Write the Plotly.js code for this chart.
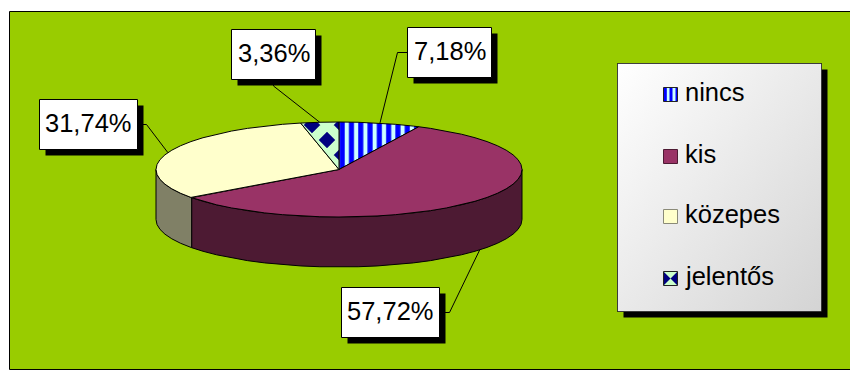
<!DOCTYPE html>
<html>
<head>
<meta charset="utf-8">
<script src="https://cdn.plot.ly/plotly-3.0.1.min.js"></script>
<style>html,body{margin:0;padding:0;background:#fff}#chart{width:850px;height:370px}</style>
</head>
<body>
<div id="chart"></div>
<script>
// Share of answers per category, in percent
const categories = ['nincs', 'kis', 'közepes', 'jelentős'];
const shares = [7.18, 57.72, 31.74, 3.36];
const shareLabels = ['7,18%', '57,72%', '31,74%', '3,36%'];

const topColors = ['#0000FF', '#993366', '#FFFFCC', '#000080'];
const wallColors = ['#000080', '#4D1A33', '#808066', '#000040'];

const W = 850, H = 370;
const marginL = 12, marginT = 20;

// Projection of the tilted disc, in pixels
const cx = 339, cy = 169.5, rx = 183, ry = 47.5, depth = 50;
const STEP = 6;

function rimPoint(deg, drop) {
  const a = deg * Math.PI / 180;
  return [cx + rx * Math.sin(a), cy - ry * Math.cos(a) + (drop || 0)];
}
function arc(a0, a1, drop) {
  const list = [a0];
  for (let d = Math.ceil(a0 / STEP) * STEP; d < a1; d += STEP) if (d > a0) list.push(d);
  list.push(a1);
  return list.map(d => rimPoint(d, drop));
}

// Slice boundaries, clockwise from twelve o'clock
const total = shares.reduce((s, v) => s + v, 0);
const bounds = [0];
shares.forEach(v => bounds.push(bounds[bounds.length - 1] + v / total * 360));

const traces = [];
const base = {mode: 'lines', fill: 'toself', hoverinfo: 'skip', showlegend: false,
              line: {color: '#000', width: 1}};

function addPoly(points, extra) {
  traces.push(Object.assign({}, base, {
    type: 'scatter', x: points.map(p => p[0]), y: points.map(p => p[1])
  }, extra));
}

// Side walls: only the part of each slice that faces the viewer (90° to 270°)
shares.forEach((v, i) => {
  const a0 = Math.max(bounds[i], 90), a1 = Math.min(bounds[i + 1], 270);
  if (a1 <= a0) return;
  const pts = arc(a0, a1, 0).concat(arc(a0, a1, depth).reverse());
  pts.push(pts[0]);
  addPoly(pts, {fillcolor: wallColors[i]});
});

// Top faces of the slices; the diagonal pattern's tile is size * sqrt(2) wide
const fills = [
  {fillpattern: {shape: '|', size: 9.3, solidity: 0.55, bgcolor: '#CCFFFF', fgcolor: '#0000FF', fillmode: 'replace'}, fillcolor: '#CCFFFF'},
  {fillcolor: topColors[1]},
  {fillcolor: topColors[2]},
  {fillpattern: {shape: 'x', size: 30 / Math.SQRT2, solidity: 0.7, bgcolor: '#000080', fgcolor: '#CCFFCC', fillmode: 'replace'}, fillcolor: '#CCFFCC'}
];
shares.forEach((v, i) => {
  const pts = [[cx, cy]].concat(arc(bounds[i], bounds[i + 1], 0));
  pts.push([cx, cy]);
  addPoly(pts, fills[i]);
});

// Value boxes: [left, top, right, bottom]
const boxes = [
  [407.5, 27.5, 491.5, 77.5],
  [341.5, 287.5, 439.5, 337.5],
  [39.5, 99.5, 137.5, 149.5],
  [231.5, 29.5, 315.5, 79.5]
];

// Leader lines run from each slice's mid-angle to its box
const leaderDrop = [0, depth, 0, 0];
const leaderElbow = [
  b => [[b[0], (b[1] + b[3]) / 2], [b[0] - 10, (b[1] + b[3]) / 2]],
  b => [[b[2], (b[1] + b[3]) / 2], [b[2] + 10, (b[1] + b[3]) / 2]],
  b => [[b[2], (b[1] + b[3]) / 2], [b[2] + 9, (b[1] + b[3]) / 2]],
  b => [[(b[0] + b[2]) / 2, b[3]], [(b[0] + b[2]) / 2, b[3] + 6.5]]
];
shares.forEach((v, i) => {
  const mid = (bounds[i] + bounds[i + 1]) / 2;
  const pts = leaderElbow[i](boxes[i]).concat([rimPoint(mid, leaderDrop[i])]);
  traces.push({type: 'scatter', mode: 'lines', hoverinfo: 'skip', showlegend: false,
    x: pts.map(p => p[0]), y: pts.map(p => p[1]), line: {color: '#000', width: 1}});
});

const px = x => (x - marginL) / (W - marginL);
const py = y => 1 - (y - marginT) / (H - marginT);

const shapes = [];

// Outer frame: the green area runs off the right edge of the page
shapes.push({type: 'rect', layer: 'below', xref: 'paper', yref: 'paper',
  x0: px(9.5), x1: px(860), y0: py(11.5), y1: py(369.5),
  line: {color: '#000', width: 1}, fillcolor: 'rgba(0,0,0,0)'});

// Legend panel: drop shadow and outline over the gradient image
const panel = [617.5, 63.5, 821.5, 311.5];
const sh = 6;
shapes.push({type: 'path', layer: 'below', xref: 'x', yref: 'y',
  path: `M${panel[2]},${panel[1] + sh}L${panel[2] + sh},${panel[1] + sh}L${panel[2] + sh},${panel[3] + sh}` +
        `L${panel[0] + sh},${panel[3] + sh}L${panel[0] + sh},${panel[3]}L${panel[2]},${panel[3]}Z`,
  fillcolor: '#000', line: {width: 0}});
shapes.push({type: 'rect', layer: 'below', xref: 'x', yref: 'y',
  x0: panel[0], x1: panel[2], y0: panel[1], y1: panel[3],
  line: {color: '#000', width: 1}, fillcolor: 'rgba(0,0,0,0)'});

// Value boxes with their shadows
boxes.forEach(b => {
  shapes.push({type: 'rect', layer: 'above', xref: 'x', yref: 'y',
    x0: b[0] + 6, x1: b[2] + 6, y0: b[1] + 6, y1: b[3] + 6, fillcolor: '#000', line: {width: 0}});
  shapes.push({type: 'rect', layer: 'above', xref: 'x', yref: 'y',
    x0: b[0], x1: b[2], y0: b[1], y1: b[3], fillcolor: '#fff', line: {color: '#000', width: 1}});
});

// Legend swatches
const swatchRows = [94.5, 156.5, 216.5, 278.5];
const swatchL = 663.5, swatchS = 14;
function addRect(l, t, r, b, fill, lineColor) {
  shapes.push({type: 'rect', layer: 'above', xref: 'x', yref: 'y', x0: l, x1: r, y0: t, y1: b,
    fillcolor: fill, line: lineColor ? {color: lineColor, width: 1} : {width: 0}});
}
swatchRows.forEach((yc, i) => {
  const t = yc - swatchS / 2, b = yc + swatchS / 2, l = swatchL, r = swatchL + swatchS;
  if (i === 0) {
    addRect(l, t, r, b, '#0000FF');
    addRect(l + 3.3, t, l + 6, b, '#CCFFFF');
    addRect(l + 9, t, l + 12, b, '#CCFFFF');
    addRect(l, t, r, b, 'rgba(0,0,0,0)', '#222');
  } else if (i === 3) {
    addRect(l, t, r, b, '#CCFFCC');
    shapes.push({type: 'path', layer: 'above', xref: 'x', yref: 'y', fillcolor: '#000080', line: {width: 0},
      path: `M${l},${t}L${l + 7},${yc}L${l},${b}Z M${r},${t}L${r - 7},${yc}L${r},${b}Z`});
    addRect(l, t, r, b, 'rgba(0,0,0,0)', '#222');
  } else {
    addRect(l, t, r, b, topColors[i], i === 2 ? '#8a8a78' : '#4D1A33');
  }
});

const textFont = {family: '"Liberation Sans", Arial, sans-serif', size: 25.5, color: '#000'};
const annotations = [];
shares.forEach((v, i) => {
  const b = boxes[i];
  annotations.push({xref: 'x', yref: 'y', x: (b[0] + b[2]) / 2, y: (b[1] + b[3]) / 2 - 2,
    text: shareLabels[i], showarrow: false, font: textFont, xanchor: 'center', yanchor: 'middle'});
});
categories.forEach((c, i) => {
  annotations.push({xref: 'x', yref: 'y', x: 683, y: swatchRows[i] - 2.5, text: c, showarrow: false,
    font: textFont, xanchor: 'left', yanchor: 'middle'});
});

function svgUri(body, w, h) {
  const svg = `<svg xmlns="http://www.w3.org/2000/svg" width="${w}" height="${h}" viewBox="0 0 ${w} ${h}">${body}</svg>`;
  return 'data:image/svg+xml;charset=utf-8,' + encodeURIComponent(svg);
}
const images = [
  {source: svgUri('<rect width="10" height="10" fill="#99CC00"/>', 10, 10),
   xref: 'paper', yref: 'paper', x: px(9.5), y: py(11.5), sizex: px(860) - px(9.5), sizey: py(11.5) - py(369.5),
   sizing: 'stretch', xanchor: 'left', yanchor: 'top', layer: 'below'},
  {source: svgUri('<defs><linearGradient id="g" x1="0" y1="0" x2="1" y2="1"><stop offset="0" stop-color="#fff"/><stop offset="1" stop-color="#D4D4D4"/></linearGradient></defs><rect width="204" height="248" fill="url(#g)"/>', 204, 248),
   xref: 'x', yref: 'y', x: panel[0], y: panel[1], sizex: panel[2] - panel[0], sizey: panel[3] - panel[1],
   sizing: 'stretch', xanchor: 'left', yanchor: 'top', layer: 'below'}
];

const hidden = {showgrid: false, zeroline: false, showticklabels: false, ticks: '', showline: false, fixedrange: true};
Plotly.newPlot('chart', traces, {
  width: W, height: H, showlegend: false,
  margin: {l: marginL, r: 0, t: marginT, b: 0, pad: 0},
  paper_bgcolor: '#fff', plot_bgcolor: 'rgba(0,0,0,0)',
  xaxis: Object.assign({range: [marginL, W]}, hidden),
  yaxis: Object.assign({range: [H, marginT]}, hidden),
  shapes, annotations, images
}, {displayModeBar: false, staticPlot: true});
</script>
</body>
</html>
